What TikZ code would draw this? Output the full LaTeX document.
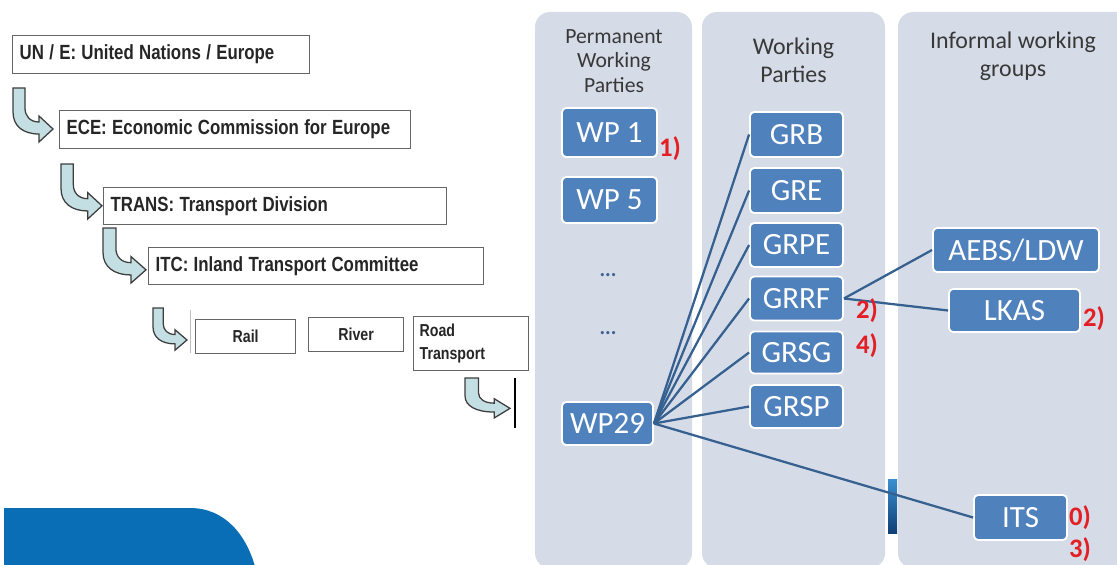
\documentclass[tikz,border=0pt]{standalone}
\usepackage{fontspec}
\setmainfont{Carlito}
\newfontfamily\narrowsans[FakeStretch=0.82]{Liberation Sans}
\newcommand\tightspaces{\spaceskip=0.26em plus 0.04em\relax}
\definecolor{panelfill}{HTML}{D5DBE7}
\definecolor{boxblue}{HTML}{4F81BD}
\definecolor{linkblue}{HTML}{35608F}
\definecolor{notered}{HTML}{E31E24}
\definecolor{arrowfill}{HTML}{C4DFE3}
\definecolor{arrowline}{HTML}{3D3D3D}
\definecolor{corpblue}{HTML}{0A6EB6}
\definecolor{dotblue}{HTML}{3F5F8F}
\definecolor{barlight}{HTML}{3A8FD0}
\definecolor{bardark}{HTML}{0F3F75}
\begin{document}
\begin{tikzpicture}[x=0.025cm,y=-0.025cm,
  orgbox/.style={draw=black!60, line width=0.9pt, fill=white, anchor=north west,
    inner xsep=0.175cm, inner ysep=0pt, align=left, text=black!85,
    font=\narrowsans\bfseries\fontsize{14.6}{17}\selectfont,
    execute at begin node=\tightspaces},
  subbox/.style={draw=black!60, line width=0.9pt, fill=white, anchor=north west,
    inner sep=0pt, text=black!85, font=\narrowsans\bfseries\fontsize{12.3}{16}\selectfont},
  wpbox/.style={rounded corners=3pt, fill=boxblue, draw=white, line width=1.3pt,
    text=white, inner sep=0pt, font=\fontsize{22}{24}\selectfont},
  panel/.style={fill=panelfill, rounded corners=0.375cm},
  headsmall/.style={align=center, text=black!78, inner sep=0pt,
    font=\fontsize{15.4}{17.2}\selectfont},
  headlarge/.style={align=center, text=black!78, inner sep=0pt,
    font=\fontsize{17}{19.8}\selectfont},
  note/.style={text=notered, inner sep=0pt, font=\bfseries\fontsize{19}{20}\selectfont},
  dots/.style={text=dotblue, inner sep=0pt, font=\bfseries\fontsize{15}{16}\selectfont},
  link/.style={draw=linkblue, line width=1.6pt},
  bend arrow/.pic={
    \filldraw[fill=arrowfill, draw=arrowline, line width=0.9pt, line join=miter]
      (0,0) -- (0,24) .. controls (0,38) and (10,46) .. (26,46) -- (26,54)
      -- (40,41) -- (26,28) -- (26,34) .. controls (17,34) and (12,28) .. (12,20)
      -- (12,0) -- cycle;
  }]
\useasboundingbox (0,0) rectangle (1117,565);
\clip (0,0) rectangle (1117,565);

% ---- organisational chain (left) ----
\node[orgbox, text width=7.075cm, minimum height=0.95cm] (un) at (12,35)
  {UN / E: United Nations / Europe};
\node[orgbox, text width=8.425cm, minimum height=0.95cm] (ece) at (59,110)
  {ECE: Economic Commission for Europe};
\node[orgbox, text width=8.225cm, minimum height=0.925cm] (trans) at (103,187)
  {TRANS: Transport Division};
\node[orgbox, text width=8.025cm, minimum height=0.925cm] (itc) at (148,247)
  {ITC: Inland Transport Committee};
\node[subbox, minimum width=2.5cm, minimum height=0.85cm] (rail) at (195,319) {Rail};
\node[subbox, minimum width=2.375cm, minimum height=0.85cm] (river) at (308,317) {River};
\node[subbox, minimum width=2.875cm, minimum height=1.35cm, text width=2.575cm,
  inner xsep=0.15cm, align=left] (road) at (413,316) {Road\\Transport};

\pic[xscale=1.0, yscale=1.0] at (13,88) {bend arrow};
\pic[xscale=1.025, yscale=1.02] at (61,164) {bend arrow};
\pic[xscale=1.075, yscale=1.02] at (103,228) {bend arrow};
\pic[xscale=0.85, yscale=0.78] at (153,308) {bend arrow};
\pic[xscale=1.125, yscale=0.74] at (465,378) {bend arrow};

\coordinate (sepA) at (190,310);
\coordinate (sepB) at (190,353);
\draw[black!25, line width=0.6pt] (sepA) -- (sepB);
\coordinate (endA) at (515,378);
\coordinate (endB) at (515,428);
\draw[black, line width=0.9pt] (endA) -- (endB);

% corner band
\fill[corpblue] (4,508) -- (190,508) .. controls (225,508) and (247,535) .. (256,570)
  -- (4,570) -- cycle;

% ---- working party structure (right) ----
\path[panel] (535,12) rectangle (692,568);
\path[panel] (702,12) rectangle (885,568);
\path[panel] (898,12) rectangle (1140,568);

\node[headsmall] (h1) at (614,61) {Permanent\\Working\\Parties};
\node[headlarge] (h2) at (793.5,60) {Working\\Parties};
\node[headlarge] (h3) at (1013,56) {Informal working\\groups};

\node[wpbox, minimum width=2.375cm, minimum height=1.225cm] (wp1) at (609.5,132.5) {WP 1};
\node[wpbox, minimum width=2.375cm, minimum height=1.15cm] (wp5) at (609.5,200) {WP 5};
\node[wpbox, minimum width=2.275cm, minimum height=1.075cm] (wp29) at (607.5,423.5) {WP29};
\node[dots] (d1) at (608,275) {...};
\node[dots] (d2) at (608,333) {...};

\node[wpbox, minimum width=2.325cm, minimum height=1.125cm] (grb) at (796.5,134.5) {GRB};
\node[wpbox, minimum width=2.325cm, minimum height=1.125cm] (gre) at (796.5,190.5) {GRE};
\node[wpbox, minimum width=2.325cm, minimum height=1.1cm] (grpe) at (796.5,245) {GRPE};
\node[wpbox, minimum width=2.325cm, minimum height=1.1cm] (grrf) at (796.5,298.5) {GRRF};
\node[wpbox, minimum width=2.325cm, minimum height=1.05cm] (grsg) at (796.5,352.5) {GRSG};
\node[wpbox, minimum width=2.325cm, minimum height=1.075cm] (grsp) at (796.5,406.5) {GRSP};

\node[wpbox, minimum width=4.15cm, minimum height=1.1cm] (aebs) at (1016,250) {AEBS/LDW};
\node[wpbox, minimum width=3.275cm, minimum height=1.075cm] (lkas) at (1014.5,310.5) {LKAS};
\node[wpbox, minimum width=2.325cm, minimum height=1.125cm] (its) at (1020.5,517.5) {ITS};

\shade[top color=barlight, bottom color=bardark] (888,479) rectangle (897,533);

\foreach \g in {grb,gre,grpe,grrf,grsg,grsp,its}
  \draw[link] (wp29.east) -- (\g.west);
\draw[link] (grrf.east) -- (aebs.west);
\draw[link] (grrf.east) -- (lkas.west);

\node[note] (n1) at (670,149) {1)};
\node[note] (n2) at (867,311) {2)};
\node[note] (n4) at (867,346) {4)};
\node[note] (n2b) at (1094,319) {2)};
\node[note] (n0) at (1080,518) {0)};
\node[note] (n3) at (1080,550) {3)};
\end{tikzpicture}
\end{document}
